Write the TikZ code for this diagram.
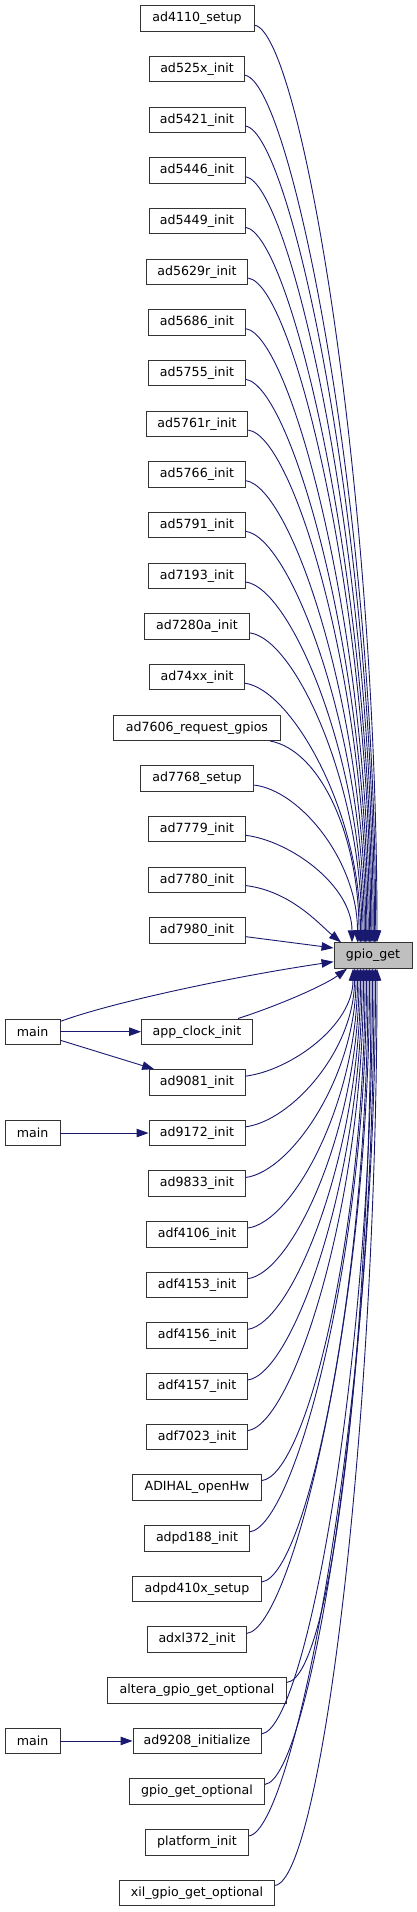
\documentclass[tikz,border=0pt]{standalone}
\usepackage{fontspec}
\setmainfont{DejaVu Sans}
\usetikzlibrary{arrows.meta}
\definecolor{midnight}{HTML}{191970}
\definecolor{selgray}{HTML}{BFBFBF}
\definecolor{boxline}{HTML}{333333}
\begin{document}
\begin{tikzpicture}[x=1pt,y=-1pt,
  fn/.style={draw=boxline, fill=white, line width=0.9pt, minimum height=25.5pt, inner sep=0pt, font=\fontsize{12.6}{14}\selectfont},
  cedge/.style={draw=midnight, line width=0.9pt, -{Triangle[length=12pt,width=8.5pt]}}]
\useasboundingbox (0,0) rectangle (417,1912);
% target
\node[fn, fill=selgray, minimum width=78pt] (g) at (373,955.5) {gpio\_get};
% rank-1 callers
\node[fn, minimum width=114pt]   (a4110)  at (197,18.5)    {ad4110\_setup};
\node[fn, minimum width=95pt]    (a525x)  at (197,69.16)   {ad525x\_init};
\node[fn, minimum width=96pt]    (a5421)  at (197,119.82)  {ad5421\_init};
\node[fn, minimum width=96pt]    (a5446)  at (197,170.48)  {ad5446\_init};
\node[fn, minimum width=96pt]    (a5449)  at (197,221.14)  {ad5449\_init};
\node[fn, minimum width=101.7pt] (a5629r) at (197,271.8)   {ad5629r\_init};
\node[fn, minimum width=96.3pt]  (a5686)  at (197,322.46)  {ad5686\_init};
\node[fn, minimum width=96.3pt]  (a5755)  at (197,373.12)  {ad5755\_init};
\node[fn, minimum width=101.7pt] (a5761r) at (197,423.78)  {ad5761r\_init};
\node[fn, minimum width=96.3pt]  (a5766)  at (197,474.44)  {ad5766\_init};
\node[fn, minimum width=96.3pt]  (a5791)  at (197,525.1)   {ad5791\_init};
\node[fn, minimum width=96.3pt]  (a7193)  at (197,575.76)  {ad7193\_init};
\node[fn, minimum width=104.3pt] (a7280a) at (197,626.42)  {ad7280a\_init};
\node[fn, minimum width=95pt]    (a74xx)  at (197,677.08)  {ad74xx\_init};
\node[fn, minimum width=167.3pt] (a7606)  at (197,727.74)  {ad7606\_request\_gpios};
\node[fn, minimum width=113.7pt] (a7768)  at (197,778.4)   {ad7768\_setup};
\node[fn, minimum width=96.3pt]  (a7779)  at (197,829.06)  {ad7779\_init};
\node[fn, minimum width=96.3pt]  (a7780)  at (197,879.72)  {ad7780\_init};
\node[fn, minimum width=96pt]    (a7980)  at (197,930.38)  {ad7980\_init};
\node[fn, minimum width=111pt]   (aclk)   at (197,1031.7)  {app\_clock\_init};
\node[fn, minimum width=96pt]    (a9081)  at (197,1082.36) {ad9081\_init};
\node[fn, minimum width=96pt]    (a9172)  at (197,1133.02) {ad9172\_init};
\node[fn, minimum width=96.3pt]  (a9833)  at (197,1183.68) {ad9833\_init};
\node[fn, minimum width=100.3pt] (f4106)  at (197,1234.34) {adf4106\_init};
\node[fn, minimum width=100.3pt] (f4153)  at (197,1285)    {adf4153\_init};
\node[fn, minimum width=100.3pt] (f4156)  at (197,1335.66) {adf4156\_init};
\node[fn, minimum width=100.3pt] (f4157)  at (197,1386.32) {adf4157\_init};
\node[fn, minimum width=100.3pt] (f7023)  at (197,1436.98) {adf7023\_init};
\node[fn, minimum width=128.3pt] (adihal) at (197,1487.64) {ADIHAL\_openHw};
\node[fn, minimum width=104.3pt] (pd188)  at (197,1538.3)  {adpd188\_init};
\node[fn, minimum width=128.3pt] (pd410x) at (197,1588.96) {adpd410x\_setup};
\node[fn, minimum width=99pt]    (xl372)  at (197,1639.62) {adxl372\_init};
\node[fn, minimum width=179pt]   (altera) at (197,1690.28) {altera\_gpio\_get\_optional};
\node[fn, minimum width=128pt]   (a9208)  at (197,1740.94) {ad9208\_initialize};
\node[fn, minimum width=134.7pt] (gopt)   at (197,1791.6)  {gpio\_get\_optional};
\node[fn, minimum width=103pt]   (plat)   at (197,1842.26) {platform\_init};
\node[fn, minimum width=155pt]   (xil)    at (197,1892.92) {xil\_gpio\_get\_optional};
% rank-0 callers
\node[fn, minimum width=55pt] (m1) at (32.5,1031.7)  {main};
\node[fn, minimum width=55pt] (m2) at (32.5,1133.02) {main};
\node[fn, minimum width=55pt] (m3) at (32.5,1740.94) {main};
% upper edges
\foreach \k/\n/\w/\ex in {0/a4110/114/377, 1/a525x/95/375.7, 2/a5421/96/374.5, 3/a5446/96/373.2,
  4/a5449/96/371.9, 5/a5629r/101.7/370.7, 6/a5686/96.3/369.4, 7/a5755/96.3/368.1,
  8/a5761r/101.7/366.8, 9/a5766/96.3/365.6, 10/a5791/96.3/364.3, 11/a7193/96.3/363,
  12/a7280a/104.3/361.8, 13/a74xx/95/360.5, 15/a7768/113.7/357.5, 16/a7779/96.3/352} {
  \pgfmathsetmacro\yc{18.5+50.66*\k}
  \pgfmathsetmacro\xa{197+\w/2+46}
  \pgfmathsetmacro\ya{\yc+12}
  \pgfmathsetmacro\yb{\yc+0.5*(942.75-\yc)}
  \pgfmathsetmacro\dx{\ex-373}
  \draw[cedge] (\n) .. controls (\xa,\ya) and (\ex,\yb) .. ([xshift=\dx pt]g.north);
}
\draw[cedge] (a7606) .. controls (320,750) and (359,835) .. ([xshift=-14pt]g.north);
\draw[cedge] (a7780) .. controls (291,891) and (320,925) .. ([xshift=-32pt]g.north);
\draw[cedge] (a7980) -- ([yshift=7.5pt]g.west);
% lower edges
\foreach \k/\n/\w/\ex in {21/a9081/96/353, 22/a9172/96/354.5, 23/a9833/96.3/356, 24/f4106/100.3/357.5,
  25/f4153/100.3/359, 26/f4156/100.3/360.5, 27/f4157/100.3/362, 28/f7023/100.3/363.5,
  29/adihal/128.3/365, 30/pd188/104.3/366.5, 31/pd410x/128.3/368, 32/xl372/99/369.5,
  33/altera/179/371, 34/a9208/128/372.5, 35/gopt/134.7/374, 36/plat/103/375.5, 37/xil/155/377} {
  \pgfmathsetmacro\yc{18.5+50.66*\k}
  \pgfmathsetmacro\xa{197+\w/2+46}
  \pgfmathsetmacro\ya{\yc-12}
  \pgfmathsetmacro\yb{\yc-0.5*(\yc-968.25)}
  \pgfmathsetmacro\dx{\ex-373}
  \draw[cedge] (\n) .. controls (\xa,\ya) and (\ex,\yb) .. ([xshift=\dx pt]g.south);
}
\draw[cedge] (aclk) .. controls (280,1005) and (325,985) .. ([xshift=-26pt]g.south);
\draw[cedge] (m1) .. controls (110,1003) and (230,977) .. ([yshift=-6.2pt]g.west);
% main callers
\draw[cedge] (m1) -- (aclk);
\draw[cedge] (m1) -- (a9081);
\draw[cedge] (m2) -- (a9172);
\draw[cedge] (m3) -- (a9208);
\end{tikzpicture}
\end{document}
